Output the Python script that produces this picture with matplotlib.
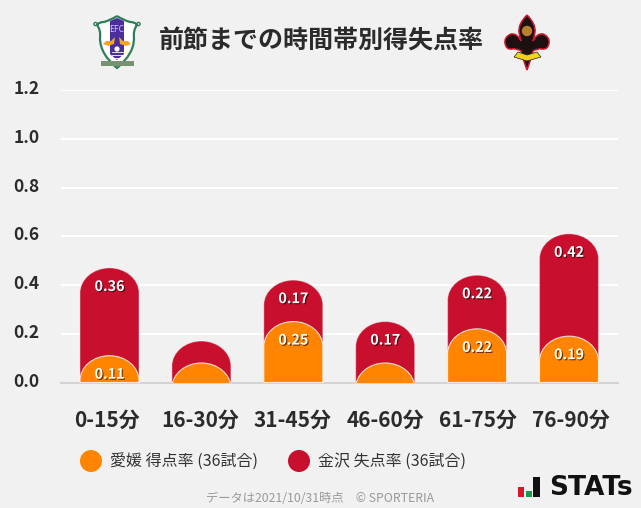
import matplotlib
matplotlib.use('Agg')
from matplotlib import pyplot as plt
from matplotlib.path import Path
from matplotlib.patches import PathPatch, Circle, Rectangle, Polygon
from matplotlib.transforms import ScaledTranslation
import matplotlib.patheffects as pe

plt.rcParams['font.family'] = ['Noto Sans CJK JP', 'DejaVu Sans']

title = '前節までの時間帯別得失点率'
categories = ['0-15分', '16-30分', '31-45分', '46-60分', '61-75分', '76-90分']
ehime_for = [0.11, 0.08, 0.25, 0.08, 0.22, 0.19]
kanazawa_against = [0.36, 0.09, 0.17, 0.17, 0.22, 0.42]
y_ticks = [0.0, 0.2, 0.4, 0.6, 0.8, 1.0, 1.2]
legend_ehime = '愛媛 得点率 (36試合)'
legend_kanazawa = '金沢 失点率 (36試合)'
footer = 'データは2021/10/31時点　© SPORTERIA'

BG = '#f1f1f1'
ORANGE = '#ff8400'
RED = '#c8102e'
DARK = '#2b2b2b'
BAR_W = 59 / 91.9
CAP_H = 25 / 244.0
K = 0.5523


def round_bar(ax, x, top, color, edge, z):
    # bar with an elliptical top, whatever falls under 0 gets clipped by the axes
    l, r = x - BAR_W / 2, x + BAR_W / 2
    s = top - CAP_H
    kx, ky = BAR_W / 2 * K, CAP_H * K
    verts = [(l, min(s, 0)), (l, s),
             (l, s + ky), (x - kx, top), (x, top),
             (x + kx, top), (r, s + ky), (r, s),
             (r, min(s, 0)), (l, min(s, 0))]
    codes = [Path.MOVETO, Path.LINETO,
             Path.CURVE4, Path.CURVE4, Path.CURVE4,
             Path.CURVE4, Path.CURVE4, Path.CURVE4,
             Path.LINETO, Path.CLOSEPOLY]
    p = PathPatch(Path(verts, codes), facecolor=color, edgecolor=edge, lw=0.8, zorder=z)
    ax.add_patch(p)


def bar_label(ax, x, top, val):
    if val < 0.1:
        return
    t = ax.annotate('%.2f' % val, xy=(x, top), xytext=(0, -19 * 0.72), textcoords='offset points',
                    ha='center', va='center', color='white', fontsize=10.3, fontweight='bold', zorder=6)
    t.set_path_effects([pe.withSimplePatchShadow(offset=(0.8, -0.8), shadow_rgbFace='black', alpha=0.6)])


def mirrored(cx, start, pieces):
    # closed outline from quadratic pieces of the right half, left half is the mirror image
    verts, codes = [start], [Path.MOVETO]
    for ctrl, end in pieces:
        verts += [ctrl, end]
        codes += [Path.CURVE3, Path.CURVE3]
    back = [start] + [p for c, e in pieces for p in (c, e)]
    for p in back[-2::-1]:
        verts.append((2 * cx - p[0], p[1]))
        codes.append(Path.CURVE3)
    return Path(verts, codes)


def ehime_logo(o):
    shield = mirrored(117, (117, 16), [((123, 20), (130, 22)), ((135, 22), (137, 25)),
                                       ((133, 30), (134, 38)), ((134, 54), (117, 68))])
    o.add_patch(PathPatch(shield, facecolor='white', edgecolor='#2f7d5b', lw=1.6))
    o.add_patch(Polygon([(110, 21), (117, 18), (124, 21), (124, 54), (117, 60), (110, 54)], facecolor='#4b2e9e', edgecolor='none'))
    for yy in (52, 55, 58):
        o.plot([111.5, 122.5], [yy, yy], color='white', lw=0.6)
    o.add_patch(Circle((117, 49), 2.6, facecolor='white', edgecolor='none'))
    o.text(117, 29, 'EFC', ha='center', va='center', fontsize=6, color='#cfc7ea')
    o.add_patch(Polygon([(103, 44), (108, 46), (114, 44), (115, 37), (111, 41), (106, 41)], facecolor='#f5a623', edgecolor='none'))
    o.add_patch(Polygon([(131, 44), (126, 46), (120, 44), (119, 37), (123, 41), (128, 41)], facecolor='#f5a623', edgecolor='none'))
    o.add_patch(Rectangle((100.5, 60.5), 33, 5, facecolor='#76926f', edgecolor='none'))
    o.add_patch(Circle((95.5, 24), 1.6, facecolor='none', edgecolor='#2f7d5b', lw=1))
    o.add_patch(Circle((138.5, 24), 1.6, facecolor='none', edgecolor='#2f7d5b', lw=1))


def kanazawa_logo(o):
    lily = mirrored(527, (527, 15), [((536, 24), (535, 32)), ((534, 38), (533, 41)),
                                     ((537, 33), (543, 34)), ((550, 37), (549, 43)),
                                     ((548, 50), (542, 49)), ((538, 48), (533, 51)),
                                     ((530, 62), (527, 70))])
    o.add_patch(PathPatch(lily, facecolor='#1c1010', edgecolor='#d0182f', lw=1.1))
    o.add_patch(Circle((527, 31), 5.2, facecolor='#b8802a', edgecolor='none'))
    o.add_patch(Polygon([(518, 52), (527, 55), (537, 52), (541, 57), (527, 61), (514, 57)], facecolor='#f2d21f', edgecolor='#222222', lw=0.5))


fig = plt.figure(figsize=(6.41, 5.08), dpi=100, facecolor=BG)
ax = fig.add_axes([61 / 641, 1 - 382.5 / 508, 557 / 641, 292.5 / 508], facecolor=BG)

for i in range(len(categories)):
    total = ehime_for[i] + kanazawa_against[i]
    round_bar(ax, i, total, RED, (1, 1, 1, 0.35), 3)
    round_bar(ax, i, ehime_for[i], ORANGE, (1, 1, 1, 0.8), 4)
    bar_label(ax, i, total, kanazawa_against[i])
    bar_label(ax, i, ehime_for[i], ehime_for[i])

ax.set_xlim(-48.5 / 91.9, (618 - 109.5) / 91.9)
ax.set_ylim(0, 1.2)
ax.set_xticks(range(len(categories)))
ax.set_xticklabels(categories, fontsize=15, fontweight='bold', color=DARK)
ax.set_yticks(y_ticks)
ax.set_yticklabels(['%.1f' % v for v in y_ticks], fontsize=12.5, fontweight='bold', color=DARK)
ax.tick_params(axis='x', length=0, pad=20)
ax.tick_params(axis='y', length=0, pad=15.3)
up = ScaledTranslation(0, 2 / 72, fig.dpi_scale_trans)
for lab in ax.get_yticklabels():
    lab.set_transform(lab.get_transform() + up)
# the labels sit a bit wider apart than the bars in the original
for i, lab in enumerate(ax.get_xticklabels()):
    shift = ScaledTranslation((0.9 * i - 2.5) / 100, 0, fig.dpi_scale_trans)
    lab.set_transform(lab.get_transform() + shift)
ax.grid(axis='y', color='white', lw=1.5, zorder=1)
ax.set_axisbelow(True)
for s in ['top', 'left', 'right']:
    ax.spines[s].set_visible(False)
ax.spines['bottom'].set_color('#d4d4d4')
ax.spines['bottom'].set_linewidth(1.5)

# everything around the plot, in pixel coordinates of the picture
o = fig.add_axes([0, 0, 1, 1], facecolor='none')
o.set_xlim(0, 641)
o.set_ylim(508, 0)
o.axis('off')

o.text(321, 41, title, ha='center', va='center', fontsize=18, fontweight='bold', color=DARK)
ehime_logo(o)
kanazawa_logo(o)

o.add_patch(Circle((91, 461), 11, facecolor=ORANGE, edgecolor='none'))
o.text(110, 461, legend_ehime, ha='left', va='center', fontsize=11.5, color='#333333')
o.add_patch(Circle((299, 461), 11, facecolor=RED, edgecolor='none'))
o.text(318, 461, legend_kanazawa, ha='left', va='center', fontsize=11.5, color='#333333')

o.text(320.5, 498, footer, ha='center', va='center', fontsize=8.8, color='#999999')

o.add_patch(Rectangle((518, 487), 5.5, 10, facecolor='#d7182a', edgecolor='none'))
o.add_patch(Rectangle((526, 491), 5.5, 6, facecolor='#1a9a4a', edgecolor='none'))
o.add_patch(Rectangle((533, 477), 6.5, 20, facecolor='#111111', edgecolor='none'))
o.text(549, 488, 'STATs', ha='left', va='center', fontsize=19, fontweight='bold', family='DejaVu Sans', color='#111111')

fig.savefig('out.png', dpi=100, facecolor=BG)
